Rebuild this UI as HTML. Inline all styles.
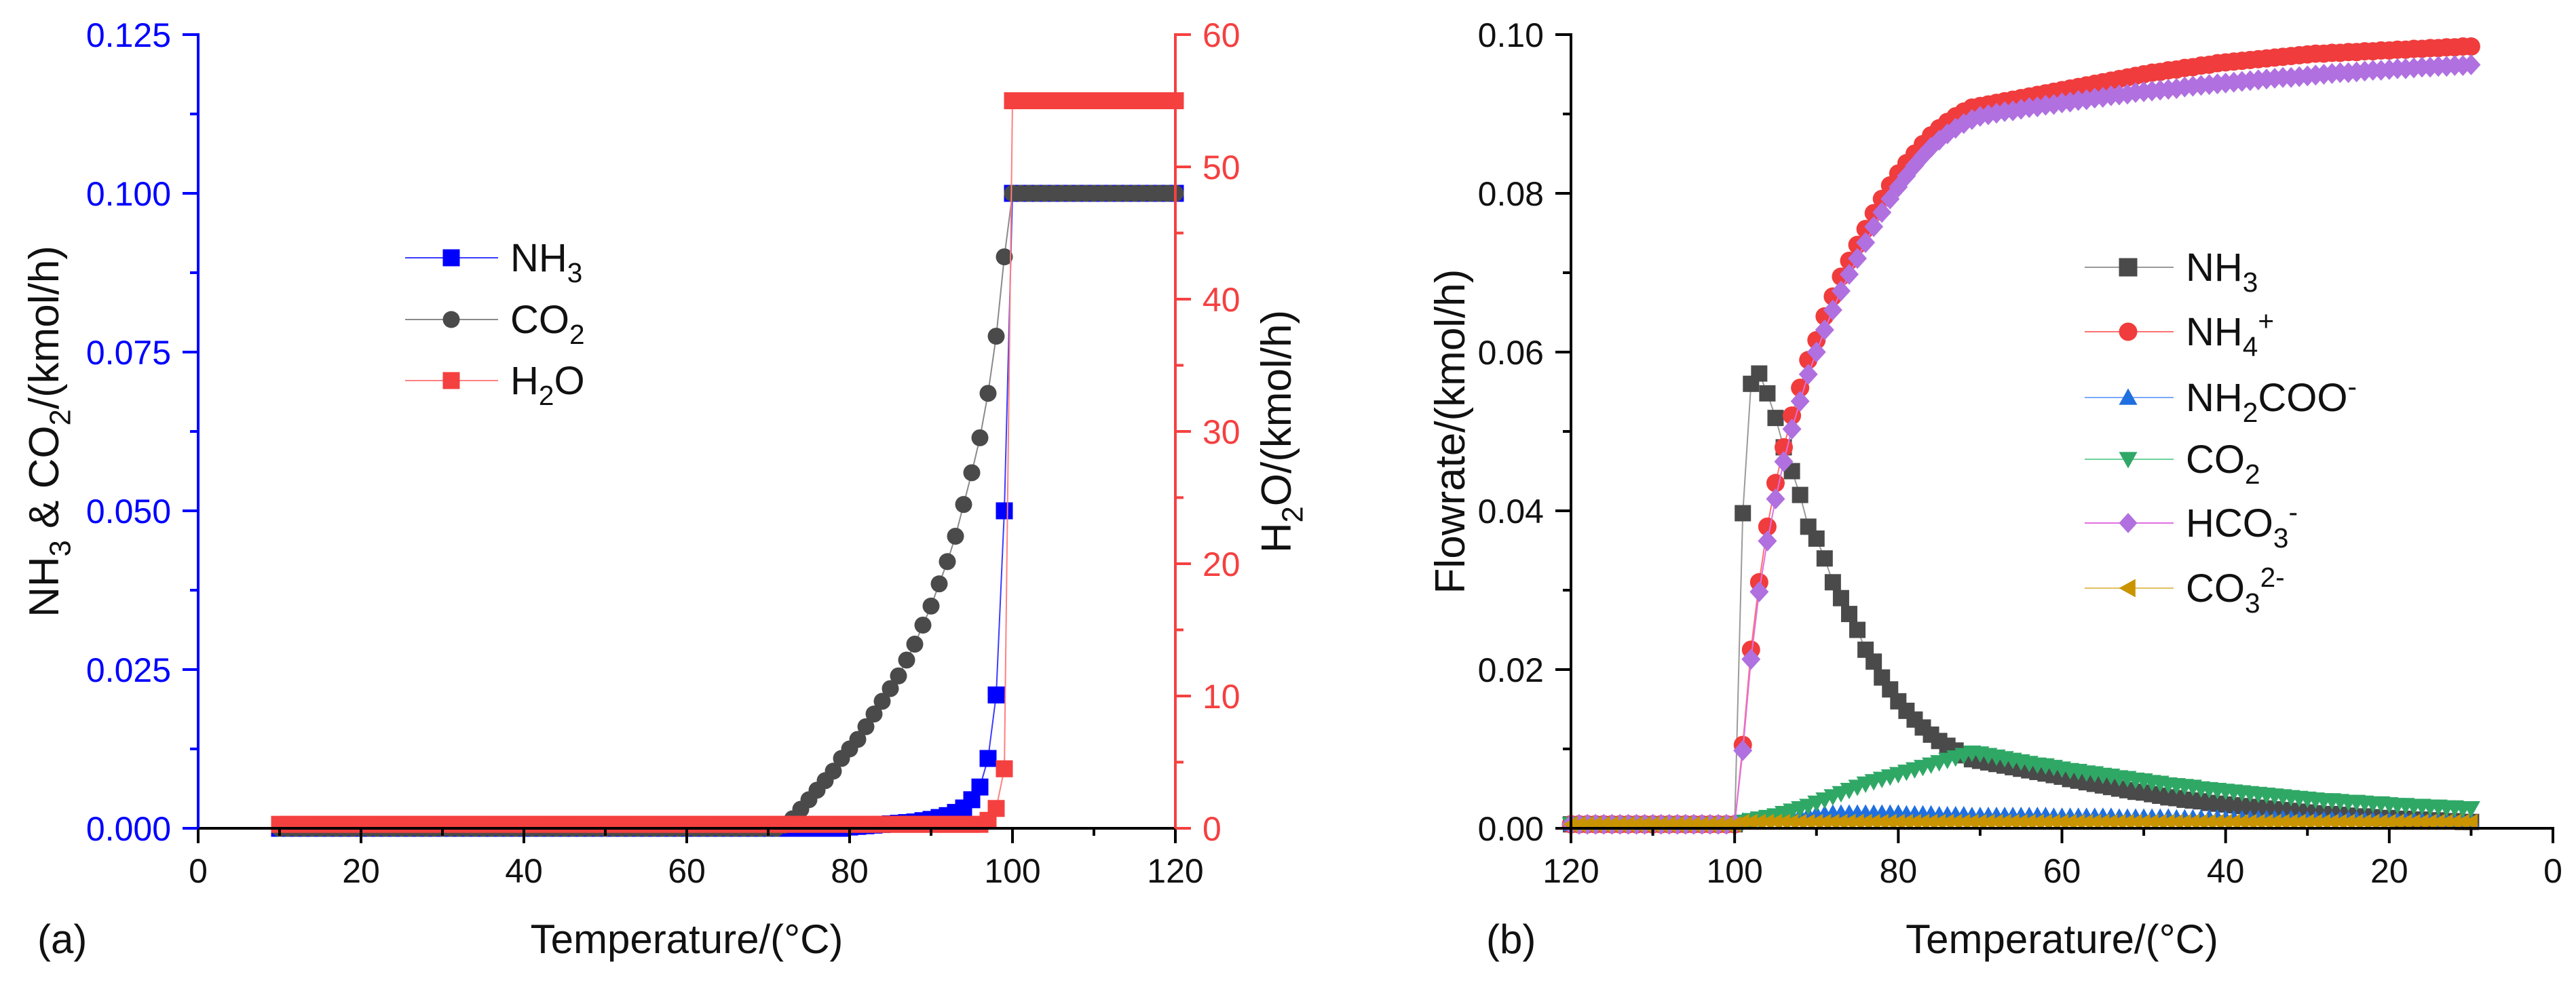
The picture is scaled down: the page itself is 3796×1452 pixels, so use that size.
<!DOCTYPE html>
<html><head><meta charset="utf-8">
<style>
html,body{margin:0;padding:0;background:#fff;}
svg{display:block;font-family:"Liberation Sans",Arial,sans-serif;}
</style></head>
<body>
<svg id="chart" width="3796" height="1452" viewBox="0 0 3796 1452" xmlns="http://www.w3.org/2000/svg">
<rect width="3796" height="1452" fill="#fff"/>
<g id="panelA"></g>
<g id="panelB"></g>
</svg>
<script>
// ---------- Data ----------
const tempsA = [10,11,12,13,14,15,16,17,18,19,20,21,22,23,24,25,26,27,28,29,30,31,32,33,34,35,36,37,38,39,40,41,42,43,44,45,46,47,48,49,50,51,52,53,54,55,56,57,58,59,60,61,62,63,64,65,66,67,68,69,70,71,72,73,74,75,76,77,78,79,80,81,82,83,84,85,86,87,88,89,90,91,92,93,94,95,96,97,98,99,100,101,102,103,104,105,106,107,108,109,110,111,112,113,114,115,116,117,118,119,120];
const nh3A = [0,0,0,0,0,0,0,0,0,0, 0,0,0,0,0,0,0,0,0,0, 0,0,0,0,0,0,0,0,0,0, 0,0,0,0,0,0,0,0,0,0, 0,0,0,0,0,0,0,0,0,0, 0,0,0,0,0,0,0,0,0,0, 0,0,0,0,0,0,0,0,0,0,
 0.0002,0.0003,0.0004,0.0005,0.0006,0.0007,0.0008,0.0009,0.001,0.0012,0.0014,0.0017,0.002,0.0025,0.0032,0.0045,0.0065,0.011,0.021,0.050,
 0.1,0.1,0.1,0.1,0.1,0.1,0.1,0.1,0.1,0.1,0.1,0.1,0.1,0.1,0.1,0.1,0.1,0.1,0.1,0.1,0.1];
const co2A = [0,0,0,0,0,0,0,0,0,0, 0,0,0,0,0,0,0,0,0,0, 0,0,0,0,0,0,0,0,0,0, 0,0,0,0,0,0,0,0,0,0, 0,0,0,0,0,0,0,0,0,0, 0,0,0,0,0,0,0,0,0,0, 0,0,
 0.0005,0.0015,0.003,0.0045,0.006,0.0075,0.009,0.011,0.0125,0.014,0.016,0.018,0.020,0.022,0.024,0.0265,0.029,0.032,0.035,0.0385,0.042,0.046,0.051,0.056,0.0615,0.0685,0.0775,0.090,
 0.1,0.1,0.1,0.1,0.1,0.1,0.1,0.1,0.1,0.1,0.1,0.1,0.1,0.1,0.1,0.1,0.1,0.1,0.1,0.1,0.1];
const h2oA = [0.3,0.3,0.3,0.3,0.3,0.3,0.3,0.3,0.3,0.3, 0.3,0.3,0.3,0.3,0.3,0.3,0.3,0.3,0.3,0.3, 0.3,0.3,0.3,0.3,0.3,0.3,0.3,0.3,0.3,0.3, 0.3,0.3,0.3,0.3,0.3,0.3,0.3,0.3,0.3,0.3, 0.3,0.3,0.3,0.3,0.3,0.3,0.3,0.3,0.3,0.3, 0.3,0.3,0.3,0.3,0.3,0.3,0.3,0.3,0.3,0.3, 0.3,0.3,0.3,0.3,0.3,0.3,0.3,0.3,0.3,0.3, 0.3,0.3,0.3,0.3,0.3,0.3,0.3,0.3,0.3,0.3, 0.3,0.3,0.3,0.3,0.3,0.3,0.3,
 0.6,1.5,4.5,
 55,55,55,55,55,55,55,55,55,55,55,55,55,55,55,55,55,55,55,55,55];

const tempsB = tempsA;
const nh3B = [0.0008,0.0008,0.0009,0.0009,0.0010,0.0010,0.0011,0.0011,0.0012,0.0012,0.0013,
 0.0013,0.0014,0.0015,0.0015,0.0016,0.0017,0.0018,0.0018,0.0019,0.0020,
 0.0021,0.0022,0.0023,0.0024,0.0025,0.0026,0.0027,0.0028,0.0029,0.0030,
 0.0031,0.0032,0.0034,0.0035,0.0036,0.0038,0.0039,0.0041,0.0043,0.0045,
 0.0046,0.0048,0.0050,0.0052,0.0054,0.0056,0.0058,0.0060,0.0062,0.0065,
 0.0067,0.0069,0.0071,0.0073,0.0075,0.0077,0.0079,0.0081,0.0083,0.0085,
 0.0087,0.0092,0.0098,0.0104,0.0110,0.0118,0.0127,0.0137,0.0148,0.0160,
 0.0175,0.0190,0.0210,0.0225,0.0250,0.0270,0.0290,0.0310,0.0340,0.0365,
 0.0380,0.0420,0.0450,0.0480,0.0517,0.0548,0.0573,0.0560,0.0397,
 0.0005,0.0005,0.0005,0.0005,0.0005,0.0005,0.0005,0.0005,0.0005,0.0005,0.0005,0.0005,0.0005,0.0005,0.0005,0.0005,0.0005,0.0005,0.0005,0.0005,0.0005];
const nh4B = [0.0985,0.0985,0.0984,0.0984,0.0983,0.0983,0.0982,0.0982,0.0981,0.0981,0.0980,
 0.0980,0.0979,0.0979,0.0978,0.0978,0.0977,0.0977,0.0976,0.0976,0.0975,
 0.0974,0.0973,0.0972,0.0971,0.0970,0.0969,0.0968,0.0967,0.0966,0.0965,
 0.0964,0.0962,0.0961,0.0959,0.0958,0.0956,0.0955,0.0953,0.0952,0.0950,
 0.0948,0.0946,0.0944,0.0942,0.0940,0.0938,0.0936,0.0934,0.0932,0.0930,
 0.0928,0.0926,0.0924,0.0922,0.0920,0.0918,0.0916,0.0914,0.0912,0.0910,
 0.0908,0.0903,0.0897,0.0890,0.0882,0.0873,0.0862,0.0850,0.0838,0.0825,
 0.0810,0.0793,0.0775,0.0755,0.0735,0.0715,0.0695,0.0670,0.0645,0.0615,
 0.0590,0.0555,0.0520,0.0480,0.0435,0.0380,0.0310,0.0225,0.0105,
 0.0005,0.0005,0.0005,0.0005,0.0005,0.0005,0.0005,0.0005,0.0005,0.0005,0.0005,0.0005,0.0005,0.0005,0.0005,0.0005,0.0005,0.0005,0.0005,0.0005,0.0005];
const nh2cooB = [0.0010,0.0010,0.0010,0.0010,0.0010,0.0011,0.0011,0.0011,0.0011,0.0011,0.0011,
 0.0011,0.0011,0.0011,0.0012,0.0012,0.0012,0.0012,0.0012,0.0012,0.0012,
 0.0012,0.0013,0.0013,0.0013,0.0013,0.0013,0.0013,0.0013,0.0013,0.0013,
 0.0014,0.0014,0.0014,0.0014,0.0014,0.0014,0.0015,0.0015,0.0015,0.0015,
 0.0015,0.0015,0.0015,0.0016,0.0016,0.0016,0.0016,0.0016,0.0016,0.0016,
 0.0016,0.0017,0.0017,0.0017,0.0017,0.0017,0.0017,0.0017,0.0017,0.0017,
 0.0017,0.0018,0.0018,0.0018,0.0018,0.0019,0.0019,0.0019,0.0019,0.0020,
 0.0020,0.0020,0.0020,0.0020,0.0020,0.0020,0.0020,0.0020,0.0019,0.0019,
 0.0018,0.0017,0.0016,0.0015,0.0014,0.0013,0.0012,0.0011,0.0010,
 0.0005,0.0005,0.0005,0.0005,0.0005,0.0005,0.0005,0.0005,0.0005,0.0005,0.0005,0.0005,0.0005,0.0005,0.0005,0.0005,0.0005,0.0005,0.0005,0.0005,0.0005];
const co2B = [0.0025,0.0025,0.0026,0.0026,0.0027,0.0027,0.0028,0.0028,0.0029,0.0029,0.0030,
 0.0031,0.0031,0.0032,0.0033,0.0033,0.0034,0.0035,0.0035,0.0036,0.0037,
 0.0038,0.0039,0.0040,0.0041,0.0042,0.0043,0.0044,0.0045,0.0046,0.0047,
 0.0048,0.0049,0.0050,0.0052,0.0053,0.0054,0.0055,0.0057,0.0058,0.0060,
 0.0061,0.0063,0.0064,0.0066,0.0067,0.0069,0.0070,0.0072,0.0073,0.0075,
 0.0077,0.0079,0.0080,0.0082,0.0084,0.0086,0.0088,0.0090,0.0092,0.0094,
 0.0095,0.0092,0.0089,0.0086,0.0083,0.0080,0.0077,0.0074,0.0071,0.0068,
 0.0065,0.0062,0.0059,0.0056,0.0052,0.0048,0.0044,0.0040,0.0036,0.0032,
 0.0028,0.0025,0.0022,0.0019,0.0016,0.0014,0.0012,0.0010,0.0008,
 0.0005,0.0005,0.0005,0.0005,0.0005,0.0005,0.0005,0.0005,0.0005,0.0005,0.0005,0.0005,0.0005,0.0005,0.0005,0.0005,0.0005,0.0005,0.0005,0.0005,0.0005];
const hco3B = [0.0962,0.0961,0.0961,0.0960,0.0960,0.0959,0.0959,0.0958,0.0957,0.0957,0.0956,
 0.0955,0.0955,0.0954,0.0953,0.0952,0.0952,0.0951,0.0950,0.0949,0.0948,
 0.0947,0.0946,0.0946,0.0945,0.0944,0.0943,0.0942,0.0941,0.0940,0.0939,
 0.0938,0.0937,0.0936,0.0935,0.0934,0.0932,0.0931,0.0930,0.0929,0.0928,
 0.0927,0.0925,0.0924,0.0923,0.0921,0.0920,0.0918,0.0917,0.0915,0.0914,
 0.0912,0.0911,0.0909,0.0908,0.0906,0.0904,0.0903,0.0901,0.0899,0.0897,
 0.0893,0.0888,0.0882,0.0875,0.0867,0.0858,0.0847,0.0835,0.0822,0.0808,
 0.0793,0.0776,0.0758,0.0738,0.0718,0.0698,0.0677,0.0653,0.0628,0.0600,
 0.0572,0.0538,0.0503,0.0462,0.0415,0.0362,0.0298,0.0213,0.0098,
 0.0005,0.0005,0.0005,0.0005,0.0005,0.0005,0.0005,0.0005,0.0005,0.0005,0.0005,0.0005,0.0005,0.0005,0.0005,0.0005,0.0005,0.0005,0.0005,0.0005,0.0005];
const co3B = [0.0008,0.0008,0.0008,0.0008,0.0008,0.0008,0.0008,0.0008,0.0008,0.0008,0.0008,
 0.0008,0.0008,0.0008,0.0008,0.0008,0.0008,0.0008,0.0008,0.0008,0.0008,
 0.0008,0.0008,0.0008,0.0008,0.0008,0.0008,0.0008,0.0008,0.0008,0.0008,
 0.0008,0.0008,0.0008,0.0008,0.0008,0.0008,0.0008,0.0008,0.0008,0.0008,
 0.0008,0.0008,0.0008,0.0008,0.0008,0.0008,0.0008,0.0008,0.0008,0.0008,
 0.0008,0.0008,0.0008,0.0008,0.0008,0.0008,0.0008,0.0008,0.0008,0.0008,
 0.0008,0.0008,0.0008,0.0008,0.0008,0.0008,0.0008,0.0008,0.0008,0.0008,
 0.0008,0.0008,0.0008,0.0008,0.0008,0.0008,0.0008,0.0008,0.0008,0.0008,
 0.0008,0.0008,0.0008,0.0008,0.0008,0.0008,0.0008,0.0008,0.0008,
 0.0005,0.0005,0.0005,0.0005,0.0005,0.0005,0.0005,0.0005,0.0005,0.0005,0.0005,0.0005,0.0005,0.0005,0.0005,0.0005,0.0005,0.0005,0.0005,0.0005,0.0005];

const xTicksA = [0,20,40,60,80,100,120];
const yTicksALeft = ["0.000","0.025","0.050","0.075","0.100","0.125"];
const yTicksARight = [0,10,20,30,40,50,60];
const xTicksB = [120,100,80,60,40,20,0];
const yTicksB = ["0.00","0.02","0.04","0.06","0.08","0.10"];

// ---------- Helpers ----------
const NS = "http://www.w3.org/2000/svg";
function mk(tag, attrs, parent){
  const e = document.createElementNS(NS, tag);
  for (const k in attrs) e.setAttribute(k, attrs[k]);
  if (parent) parent.appendChild(e);
  return e;
}
function line(p, x1,y1,x2,y2, col, w){ return mk("line",{x1:x1,y1:y1,x2:x2,y2:y2,stroke:col,"stroke-width":w},p); }
function text(p, x,y,s,size,col,anchor){
  const t = mk("text",{x:x,y:y,"font-size":size,fill:col,"text-anchor":anchor||"middle"},p);
  t.textContent = s; return t;
}
function rich(p, x,y,parts,size,col,anchor,transform){
  const t = mk("text",{x:x,y:y,"font-size":size,fill:col,"text-anchor":anchor||"start"},p);
  if (transform) t.setAttribute("transform", transform);
  let cur = 0;
  parts.forEach(pt=>{
    const ts = mk("tspan",{},t);
    let target = pt[1]==="sub" ? size*0.28 : pt[1]==="sup" ? -size*0.38 : 0;
    ts.setAttribute("dy", target-cur); cur = target;
    if (pt[1]!=="n") ts.setAttribute("font-size", size*0.7);
    ts.textContent = pt[0];
  });
  return t;
}
function marker(p, shape, x, y, s, col){
  const h = s/2;
  if (shape==="square") return mk("rect",{x:x-h,y:y-h,width:s,height:s,fill:col},p);
  if (shape==="circle") return mk("circle",{cx:x,cy:y,r:h,fill:col},p);
  if (shape==="tri-up") return mk("polygon",{points:`${x},${y-h} ${x+h},${y+h*0.8} ${x-h},${y+h*0.8}`,fill:col},p);
  if (shape==="tri-down") return mk("polygon",{points:`${x},${y+h} ${x+h},${y-h*0.8} ${x-h},${y-h*0.8}`,fill:col},p);
  if (shape==="tri-left") return mk("polygon",{points:`${x-h},${y} ${x+h*0.8},${y-h} ${x+h*0.8},${y+h}`,fill:col},p);
  if (shape==="diamond") return mk("polygon",{points:`${x},${y-h*1.1} ${x+h},${y} ${x},${y+h*1.1} ${x-h},${y}`,fill:col},p);
}
function series(p, name, xs, ys, sx, sy, shape, size, col, lineCol){
  const g = mk("g",{},p);
  
  
  const pts = xs.map((x,i)=>sx(x).toFixed(1)+","+sy(ys[i]).toFixed(1)).join(" ");
  const pl = mk("polyline",{points:pts,fill:"none",stroke:lineCol,"stroke-width":2},g);
  
  
  xs.forEach((x,i)=>{
    const m = marker(g, shape, sx(x), sy(ys[i]), size, col);
    
    
  });
}

// ---------- Panel A ----------
const A = document.getElementById("panelA");
const axL=292, axR=1732, axT=51, axB=1221;
const sxA = v => axL + (v-0)/(120)*(axR-axL);
const syAL = v => axB - v/0.125*(axB-axT);
const syAR = v => axB - v/60*(axB-axT);
const BLUE="#0000ff", RED="#f54040", GRAY="#4a4a4a", BLACK="#000";

series(A,"nh3-series-a",tempsA,nh3A,sxA,syAL,"square",25,BLUE,"#3c3cff");
series(A,"co2-series-a",tempsA,co2A,sxA,syAL,"circle",25,GRAY,"#8a8a8a");
series(A,"h2o-series-a",tempsA,h2oA,sxA,syAR,"square",25,RED,"#ff8080");

const axA = mk("g",{},A);


line(axA, axL, axB, axR, axB, BLACK, 4);
line(axA, axL, axT-2, axL, axB+2, BLUE, 4);
line(axA, axR, axT-2, axR, axB+2, RED, 4);
xTicksA.forEach(v=>{ line(axA, sxA(v), axB, sxA(v), axB+22, BLACK, 4);
  const t=text(axA, sxA(v), axB+80, String(v), 50, "#111");  });
for (let v=10; v<120; v+=20) line(axA, sxA(v), axB, sxA(v), axB+11, BLACK, 4);
yTicksALeft.forEach(s=>{ const v=parseFloat(s); line(axA, axL-23, syAL(v), axL, syAL(v), BLUE, 4);
  const t=text(axA, axL-40, syAL(v)+18, s, 50, BLUE, "end");  });
for (let i=0;i<5;i++){ const v=0.0125+i*0.025; line(axA, axL-12, syAL(v), axL, syAL(v), BLUE, 4); }
yTicksARight.forEach(v=>{ line(axA, axR, syAR(v), axR+23, syAR(v), RED, 4);
  const t=text(axA, axR+40, syAR(v)+18, String(v), 50, RED, "start");  });
for (let v=5; v<60; v+=10) line(axA, axR, syAR(v), axR+12, syAR(v), RED, 4);

let tt = text(A, (axL+axR)/2, 1405, "Temperature/(°C)", 60, "#111");
 
tt = text(A, 55, 1405, "(a)", 60, "#111", "start");
 
tt = rich(A, 0, 0, [["NH","n"],["3","sub"],[" & CO","n"],["2","sub"],["/(kmol/h)","n"]], 62, "#111", "middle", "translate(86,636) rotate(-90)");
 
tt = rich(A, 0, 0, [["H","n"],["2","sub"],["O/(kmol/h)","n"]], 62, "#111", "middle", "translate(1902,636) rotate(-90)");
 

const legA = mk("g",{},A);


[[380,"square",BLUE,"#3c3cff",[["NH","n"],["3","sub"]]],
 [471,"circle",GRAY,"#8a8a8a",[["CO","n"],["2","sub"]]],
 [561,"square",RED,"#ff8080",[["H","n"],["2","sub"],["O","n"]]]].forEach((e,i)=>{
  const g = mk("g",{},legA);
  
  
  line(g, 597, e[0], 734, e[0], e[3], 2);
  marker(g, e[1], 665, e[0], 25, e[2]);
  rich(g, 752, e[0]+20, e[4], 58, "#111", "start");
});

// ---------- Panel B ----------
const B = document.getElementById("panelB");
const bL=2315, bR=3762, bT=51, bB=1221;
const sxB = v => bL + (120-v)/120*(bR-bL);
const syB = v => bB - v/0.10*(bB-bT);
const C_NH3="#4a4a4a", C_NH4="#f03c3c", C_NH2="#1f6fe0", C_CO2="#2fa866", C_HCO3="#b070e0", C_CO3="#c99400";

series(B,"nh3-series-b",tempsB,nh3B,sxB,syB,"square",24,C_NH3,"#9a9a9a");
series(B,"nh4-series-b",tempsB,nh4B,sxB,syB,"circle",27,C_NH4,"#ff7070");
series(B,"nh2coo-series-b",tempsB,nh2cooB,sxB,syB,"tri-up",24,C_NH2,"#7aaaff");
series(B,"co2-series-b",tempsB,co2B,sxB,syB,"tri-down",27,C_CO2,"#6fd09a");
series(B,"hco3-series-b",tempsB,hco3B,sxB,syB,"diamond",28,C_HCO3,"#e070e0");
series(B,"co3-series-b",tempsB,co3B,sxB,syB,"tri-left",24,C_CO3,"#e0c060");

const axB2 = mk("g",{},B);


line(axB2, bL, bB, bR+2, bB, BLACK, 4);
line(axB2, bL, bT-2, bL, bB+2, BLACK, 4);
xTicksB.forEach(v=>{ line(axB2, sxB(v), bB, sxB(v), bB+22, BLACK, 4);
  const t=text(axB2, sxB(v), bB+80, String(v), 50, "#111");  });
for (let v=110; v>0; v-=20) line(axB2, sxB(v), bB, sxB(v), bB+11, BLACK, 4);
yTicksB.forEach(s=>{ const v=parseFloat(s); line(axB2, bL-23, syB(v), bL, syB(v), BLACK, 4);
  const t=text(axB2, bL-40, syB(v)+18, s, 50, "#111", "end");  });
for (let i=0;i<5;i++){ const v=0.01+i*0.02; line(axB2, bL-12, syB(v), bL, syB(v), BLACK, 4); }

tt = text(B, (bL+bR)/2, 1405, "Temperature/(°C)", 60, "#111");
 
tt = text(B, 2190, 1405, "(b)", 60, "#111", "start");
 
tt = text(B, 0, 0, "Flowrate/(kmol/h)", 62, "#111");
tt.setAttribute("transform","translate(2158,636) rotate(-90)");
 

const legB = mk("g",{},B);


[[394,"square",C_NH3,"#9a9a9a",[["NH","n"],["3","sub"]]],
 [489,"circle",C_NH4,"#ff7070",[["NH","n"],["4","sub"],["+","sup"]]],
 [586,"tri-up",C_NH2,"#7aaaff",[["NH","n"],["2","sub"],["COO","n"],["-","sup"]]],
 [677,"tri-down",C_CO2,"#6fd09a",[["CO","n"],["2","sub"]]],
 [771,"diamond",C_HCO3,"#e070e0",[["HCO","n"],["3","sub"],["-","sup"]]],
 [867,"tri-left",C_CO3,"#e0c060",[["CO","n"],["3","sub"],["2-","sup"]]]].forEach(e=>{
  const g = mk("g",{},legB);
  
  
  line(g, 3072, e[0], 3203, e[0], e[3], 2);
  marker(g, e[1], 3136, e[0], 27, e[2]);
  rich(g, 3221, e[0]+20, e[4], 58, "#111", "start");
});
</script>
</body></html>
